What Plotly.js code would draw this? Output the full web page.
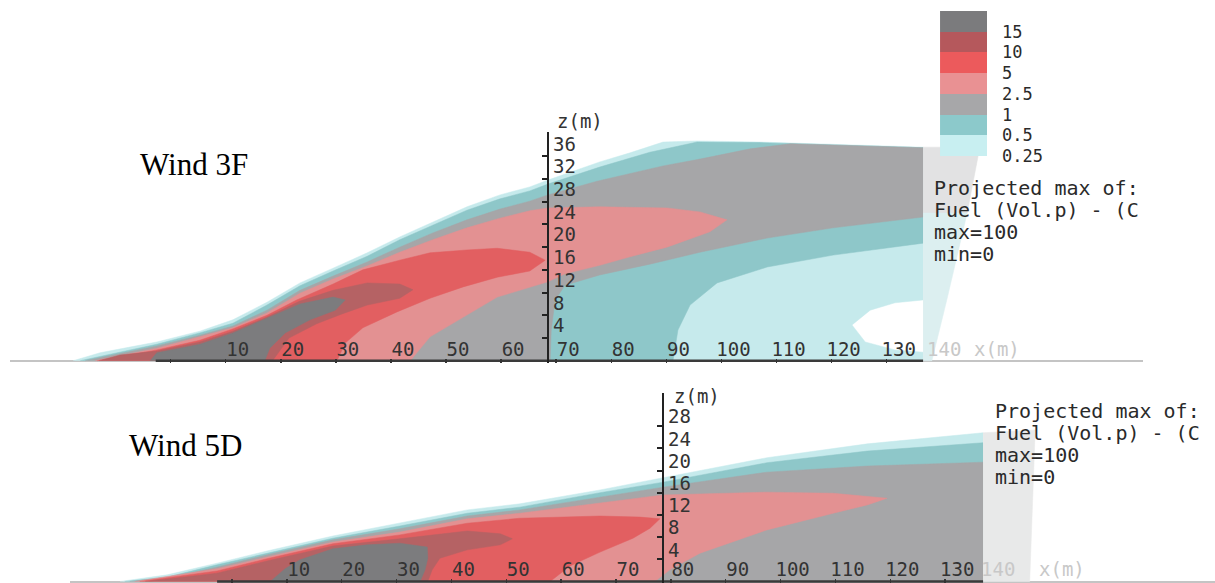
<!DOCTYPE html>
<html>
<head>
<meta charset="utf-8">
<script src="https://cdn.plot.ly/plotly-3.0.1.min.js"></script>
<style>html,body{margin:0;padding:0;background:#fff;}#chart{width:1215px;height:583px;}</style>
</head>
<body>
<div id="chart"></div>
<script>
// ---- concentration levels (Fuel vol.%) and band colours ----
const levels = [0.25, 0.5, 1, 2.5, 5, 10, 15];
const levelColors = ['#c6eaec', '#8ec7c9', '#a6a6a8', '#e39192', '#e25f61', '#b56264', '#7c7c7e'];
const legendColors = ['#c8eff1', '#8cc9cb', '#a7a7a9', '#e99193', '#ec5a5c', '#b5585c', '#7b7b7d'];

// ---- Wind 3F: outline of each region "concentration >= level" (x, z in m) ----
const w3F_x_025 = [-17.7, -12.8, -7.4, -2.5, 5.3, 11.3, 17.5, 23.5, 29.5, 35.7, 41.6, 47.6, 53.8, 59.8, 65.2, 68.5, 77.9, 83.4, 89.4, 95.6, 107.0, 123.4, 136.6, 136.6, 131.5, 127.0, 123.7, 126.1, 131.5, 136.6, 136.6];
const w3F_z_025 = [0, 1.4, 2.4, 3.3, 5.2, 7.2, 10.3, 13.7, 16.3, 19.0, 21.8, 24.4, 27.1, 29.2, 30.6, 31.8, 35.0, 36.6, 38.5, 38.7, 38.5, 38.0, 37.6, 10.7, 10.2, 8.9, 6.3, 3.3, 1.9, 1.5, 0];
const w3F_x_05 = [-16.4, -2.5, 5.3, 11.3, 17.5, 23.5, 29.5, 35.7, 41.6, 47.6, 53.8, 59.8, 65.2, 68.5, 77.9, 87.0, 95.6, 107.0, 123.4, 136.6, 136.6, 120.3, 108.3, 99.2, 94.3, 92.1, 91.2];
const w3F_z_05 = [0, 2.9, 4.9, 6.6, 9.8, 13.2, 15.8, 18.4, 21.3, 23.9, 26.5, 28.5, 29.9, 31.1, 34.1, 36.7, 38.5, 38.4, 37.9, 37.5, 20.7, 18.6, 16.5, 13.7, 9.8, 5.4, 0];
const w3F_x_1 = [-15.5, -2.5, 5.3, 11.3, 17.5, 23.5, 29.5, 35.7, 41.6, 47.6, 53.8, 59.8, 65.2, 68.5, 77.4, 89.4, 96.1, 105.2, 112.5, 123.4, 136.6, 136.6, 120.3, 108.3, 96.1, 87.0, 77.9, 71.6, 69.8, 69.1, 68.9];
const w3F_z_1 = [0, 2.6, 4.5, 6.1, 8.9, 12.4, 14.9, 17.4, 20.0, 22.5, 24.8, 26.7, 28.1, 29.2, 31.6, 34.3, 35.5, 37.3, 38.2, 37.9, 37.5, 25.3, 23.4, 21.6, 19.1, 17.0, 15.1, 13.3, 10.7, 5.4, 0];
const w3F_x_25 = [-13.7, -2.5, 5.3, 11.3, 17.5, 23.5, 29.5, 35.7, 41.6, 47.6, 53.8, 59.8, 65.2, 68.5, 77.9, 90.1, 96.1, 101.0, 97.9, 90.1, 83.4, 77.9, 71.6, 68.5, 59.3, 53.1, 47.1, 43.5];
const w3F_z_25 = [0, 2.2, 4.2, 5.8, 8.4, 11.9, 14.4, 16.7, 19.1, 21.3, 23.4, 25.1, 26.4, 26.9, 27.1, 26.9, 26.2, 24.8, 22.7, 20.0, 18.3, 16.8, 15.3, 13.9, 11.2, 7.7, 4.2, 0];
const w3F_x_5 = [-13.3, -2.5, 5.3, 11.3, 17.5, 22.9, 29.5, 34.9, 41.6, 47.1, 53.8, 59.3, 65.2, 68.0, 65.2, 59.3, 53.1, 47.1, 41.1, 34.9, 31.7, 30.2];
const w3F_z_5 = [0, 1.9, 3.6, 5.6, 8.0, 10.7, 13.5, 16.0, 17.7, 19.0, 19.5, 19.8, 19.1, 17.7, 15.8, 14.7, 13.0, 11.0, 8.6, 5.8, 3.1, 0];
const w3F_x_10 = [-13.0, -9.2, -2.5, 5.3, 11.3, 17.5, 23.5, 29.5, 35.7, 41.6, 44.0, 41.6, 35.7, 31.0, 26.5, 21.5, 18.5];
const w3F_z_10 = [0, 1.0, 1.7, 3.3, 5.2, 7.7, 10.5, 12.4, 13.7, 13.5, 12.5, 11.0, 9.8, 8.2, 6.5, 4.0, 0];
const w3F_x_15 = [-3.7, -2.5, 5.3, 11.3, 17.5, 23.5, 29.5, 31.7, 29.9, 25.3, 20.8, 18.0, 17.1];
const w3F_z_15 = [0, 1.4, 2.9, 4.9, 7.5, 10.0, 11.2, 10.7, 8.9, 7.2, 4.9, 2.2, 0];
// faded part beyond the domain edge
const w3F_fadeA_x = [136.6, 146.9, 144.6, 136.6];
const w3F_fadeA_z = [37.6, 37.6, 26.0, 26.0];
const w3F_fadeB_x = [136.6, 144.6, 140.9, 138.2, 136.6];
const w3F_fadeB_z = [26.0, 26.0, 10.7, 0, 0];
const w3F_groundX = [-2.7, 136.6];

// ---- Wind 5D ----
const w5D_x_025 = [-20.4, -11.8, -2.7, 6.4, 18.4, 30.6, 42.9, 52.5, 67.1, 78.6, 97.5, 115.8, 136.9, 136.9];
const w5D_z_025 = [0, 1.2, 3.3, 5.5, 8.2, 10.5, 12.9, 14.0, 16.5, 18.7, 22.3, 24.8, 26.8, 0];
const w5D_x_05 = [-19.5, -11.8, -2.7, 6.4, 18.4, 30.6, 42.9, 52.5, 67.1, 78.6, 97.5, 115.8, 136.9, 136.9];
const w5D_z_05 = [0, 0.8, 3.0, 5.1, 7.8, 10.0, 12.3, 13.4, 16.0, 17.9, 21.4, 23.5, 25.0, 0];
const w5D_x_1 = [-18.6, -11.8, -2.7, 6.4, 18.4, 30.6, 42.9, 52.5, 67.1, 78.6, 97.5, 115.8, 136.9, 136.9];
const w5D_z_1 = [0, 0.6, 2.6, 4.8, 7.5, 9.5, 11.8, 12.9, 15.2, 17.0, 19.7, 20.8, 21.5, 0];
const w5D_x_25 = [-17.7, -2.7, 6.4, 18.4, 30.6, 42.9, 52.5, 67.1, 78.6, 97.5, 109.6, 119.4, 115.8, 109.6, 97.5, 85.3, 79.8, 77.1];
const w5D_z_25 = [0, 2.3, 4.4, 7.1, 8.9, 11.3, 12.3, 14.1, 15.6, 16.1, 15.9, 15.0, 13.8, 12.3, 9.3, 5.1, 2.1, 0];
const w5D_x_5 = [-16.8, -2.7, 6.4, 18.4, 30.6, 42.9, 52.5, 67.1, 74.4, 78.0, 76.2, 73.1, 67.1, 61.6, 58.0];
const w5D_z_5 = [0, 1.9, 4.1, 6.8, 8.4, 10.5, 11.4, 11.8, 11.6, 11.3, 9.6, 7.8, 5.3, 2.8, 0];
const w5D_x_10 = [-15.8, -2.7, 6.4, 18.4, 30.6, 42.9, 48.9, 51.1, 48.9, 42.9, 37.9, 36.5, 35.7];
const w5D_z_10 = [0, 1.5, 3.7, 6.4, 7.7, 9.1, 8.6, 7.7, 6.6, 5.7, 4.2, 2.1, 0];
const w5D_x_15 = [7.0, 9.7, 12.4, 18.4, 24.6, 30.6, 35.6, 35.7, 35.2, 34.3];
const w5D_z_15 = [0, 2.3, 3.9, 5.9, 6.6, 6.9, 6.2, 4.2, 2.1, 0];
const w5D_fade_x = [136.9, 146.4, 145.4, 136.9];
const w5D_fade_z = [26.8, 27.3, 0, 0];
const w5D_groundX = [-2.7, 136.9];

// ---- axes ticks and texts ----
const xTicks = [0, 10, 20, 30, 40, 50, 60, 70, 80, 90, 100, 110, 120, 130];
const xTickText = ['', '10', '20', '30', '40', '50', '60', '70', '80', '90', '100', '110', '120', '130'];
const zTicks3F = [4, 8, 12, 16, 20, 24, 28, 32, 36];
const zTicks5D = [4, 8, 12, 16, 20, 24, 28];
const infoLines = ['Projected max of:', 'Fuel (Vol.p) - (C', 'max=100', 'min=0'];
const panelTitles = ['Wind 3F', 'Wind 5D'];

const mono = 'DejaVu Sans Mono, monospace';
const traces = [];
function addPanel(polys, fades, groundX, xa, ya) {
  polys.forEach((p, i) => {
    traces.push({type: 'scatter', mode: 'lines', x: p[0], y: p[1], xaxis: xa, yaxis: ya,
      fill: 'toself', fillcolor: levelColors[i], line: {color: levelColors[i], width: 0.5},
      hoverinfo: 'skip', showlegend: false});
  });
  fades.forEach(f => {
    traces.push({type: 'scatter', mode: 'lines', x: f[0], y: f[1], xaxis: xa, yaxis: ya,
      fill: 'toself', fillcolor: f[2], line: {color: f[2], width: 0.5}, hoverinfo: 'skip', showlegend: false});
  });
  traces.push({type: 'scatter', mode: 'lines', x: groundX, y: groundX.map(() => 0), xaxis: xa, yaxis: ya,
    line: {color: '#3a3a3a', width: 2.5}, hoverinfo: 'skip', showlegend: false});
}
addPanel([[w3F_x_025, w3F_z_025], [w3F_x_05, w3F_z_05], [w3F_x_1, w3F_z_1], [w3F_x_25, w3F_z_25],
          [w3F_x_5, w3F_z_5], [w3F_x_10, w3F_z_10], [w3F_x_15, w3F_z_15]],
         [[w3F_fadeA_x, w3F_fadeA_z, '#e2e2e3'], [w3F_fadeB_x, w3F_fadeB_z, '#dceff0']], w3F_groundX, 'x', 'y');
addPanel([[w5D_x_025, w5D_z_025], [w5D_x_05, w5D_z_05], [w5D_x_1, w5D_z_1], [w5D_x_25, w5D_z_25],
          [w5D_x_5, w5D_z_5], [w5D_x_10, w5D_z_10], [w5D_x_15, w5D_z_15]],
         [[w5D_fade_x, w5D_fade_z, '#e8e9e9']], w5D_groundX, 'x2', 'y2');

// legend colour bar as a heatmap of the level bands
const nL = levels.length;
const cs = [];
legendColors.forEach((c, i) => { cs.push([i / nL, c]); cs.push([(i + 1) / nL, c]); });
traces.push({type: 'heatmap', x: [0], y: levels.map((v, i) => i), z: levels.map((v, i) => [i]),
  zmin: -0.5, zmax: nL - 0.5, colorscale: cs, showscale: false, xaxis: 'x3', yaxis: 'y3', hoverinfo: 'skip'});

const tickFont = {family: mono, size: 19, color: '#333'};
function xAxis(domain, range, anchor, standoff) {
  return {domain: domain, range: range, anchor: anchor, tickvals: xTicks, ticktext: xTickText,
    ticks: 'inside', ticklen: 4, tickwidth: 1.5, tickcolor: '#333', ticklabelposition: 'outside',
    ticklabelshift: 12, ticklabelstandoff: standoff, tickfont: tickFont,
    showgrid: false, zeroline: false, showline: false, fixedrange: true};
}
function yAxis(domain, range, pos, ticks, shift) {
  return {domain: domain, range: range, anchor: 'free', position: pos, side: 'right', tickvals: ticks,
    ticks: 'inside', ticklen: 5, tickwidth: 2, tickcolor: '#222', tickfont: tickFont,
    ticklabelposition: 'outside top', ticklabelshift: shift,
    showline: true, linecolor: '#222', linewidth: 2, showgrid: false,
    zeroline: true, zerolinecolor: '#c4c4c4', zerolinewidth: 2, fixedrange: true};
}

const W = 1215, H = 583;
const ann = [];
function paperText(text, px, py, size, color, family, xanchor) {
  ann.push({text: text, xref: 'paper', yref: 'paper', x: px / W, y: 1 - py / H, showarrow: false,
    xanchor: xanchor || 'center', yanchor: 'middle', font: {family: family || mono, size: size, color: color}});
}
paperText(panelTitles[0], 194, 165, 31, '#000', 'Liberation Serif, Times New Roman, serif');
paperText(panelTitles[1], 185, 445, 31, '#000', 'Liberation Serif, Times New Roman, serif');
infoLines.forEach((t, i) => paperText(t, 932, 188 + 22 * i, 20, '#2a2a2a', mono, 'left'));
infoLines.forEach((t, i) => paperText(t, 993, 411 + 22 * i, 20, '#2a2a2a', mono, 'left'));
paperText('z(m)', 580, 121, 19, '#333');
paperText('z(m)', 697, 396, 19, '#333');
paperText('140', 944, 349, 19, '#c8c8c8');
paperText('x(m)', 997, 349, 19, '#c8c8c8');
paperText('140', 998, 569, 19, '#c8c8c8');
paperText('x(m)', 1062, 569, 19, '#c8c8c8');

const layout = {
  width: W, height: H, margin: {l: 0, r: 0, t: 0, b: 0, pad: 0},
  paper_bgcolor: '#fff', plot_bgcolor: 'rgba(0,0,0,0)', showlegend: false,
  xaxis: xAxis([0.00823, 0.9407], [-29.15, 176.51], 'y', -27),
  yaxis: yAxis([0.37736, 0.77290], [-0.4, 40.2], 0.45128, zTicks3F, 2),
  xaxis2: xAxis([0.05761, 1], [-29.51, 179.17], 'y2', -27),
  yaxis2: yAxis([0, 0.32624], [-0.27, 34.0], 0.54593, zTicks5D, 5),
  xaxis3: {domain: [0.7737, 0.8123], range: [-0.5, 0.5], anchor: 'y3', visible: false, fixedrange: true},
  yaxis3: {domain: [0.73242, 0.98113], range: [-0.5, nL - 0.5], anchor: 'x3', side: 'right',
    tickvals: levels.map((v, i) => i - 0.5), ticktext: levels.map(String), ticks: '',
    ticklabelstandoff: 14, tickfont: {family: mono, size: 17, color: '#2a2a2a'},
    showgrid: false, zeroline: false, showline: false, fixedrange: true},
  annotations: ann
};
Plotly.newPlot('chart', traces, layout, {staticPlot: true, displayModeBar: false});
</script>
</body>
</html>
